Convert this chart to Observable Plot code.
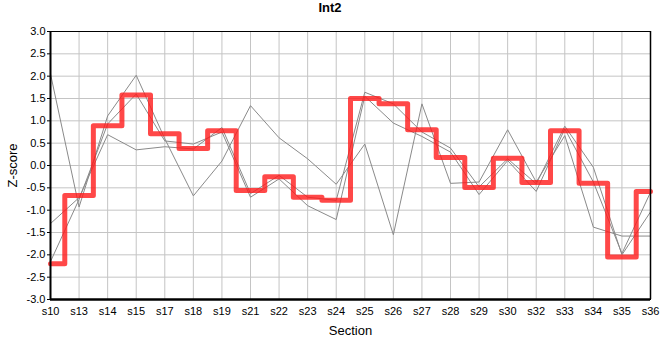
<!DOCTYPE html>
<html>
<head>
<meta charset="utf-8">
<script src="https://cdn.jsdelivr.net/npm/d3@7"></script>
<script src="https://cdn.jsdelivr.net/npm/@observablehq/plot@0.6"></script>
<style>
  html, body { margin: 0; padding: 0; background: white; overflow: hidden; }
  #title { width: 660px; height: 20px; line-height: 17px; text-align: center;
           font: bold 13px "Liberation Sans", Arial, sans-serif; color: black; }
  #chart svg { display: block; max-width: none; }
</style>
</head>
<body>
<div id="title">Int2</div>
<div id="chart"></div>
<script>
const sections = ["s10","s13","s14","s15","s17","s18","s19","s21","s22","s23","s24",
                  "s25","s26","s27","s28","s29","s30","s32","s33","s34","s35","s36"];
const redValues = [-2.2,-0.67,0.89,1.58,0.71,0.38,0.78,-0.56,-0.25,-0.71,-0.78,
                   1.5,1.38,0.8,0.18,-0.49,0.16,-0.38,0.78,-0.4,-2.05,-0.58];
const grayA = [2.05,-0.93,1.11,2.02,0.6,-0.68,0.1,1.34,0.62,0.15,-0.42,
               0.48,-1.55,1.38,-0.4,-0.37,0.8,-0.37,0.67,-1.38,-1.58,-1.58];
const grayB = [-1.3,-0.72,0.69,0.35,0.42,0.37,0.85,-0.63,-0.22,-0.71,-0.78,
               1.64,1.38,0.75,0.39,-0.48,0.15,-0.41,0.88,-0.04,-2.0,-1.04];
const grayC = [-2.15,-0.76,0.93,1.6,0.55,0.48,0.75,-0.71,-0.3,-0.9,-1.21,
               1.55,0.95,0.65,0.3,-0.65,0.11,-0.58,0.82,-0.37,-1.97,-0.6];
const yTicks = [-3,-2.5,-2,-1.5,-1,-0.5,0,0.5,1,1.5,2,2.5,3];

const redData = sections.map((s, i) => ({section: s, z: redValues[i]}));
const grayData = [["A", grayA], ["B", grayB], ["C", grayC]].flatMap(([name, vals]) =>
  sections.map((s, i) => ({series: name, section: s, z: vals[i]})));

const chart = Plot.plot({
  width: 660,
  height: 340,
  marginTop: 11,
  marginBottom: 61,
  marginLeft: 50,
  marginRight: 10,
  style: {fontFamily: "'Liberation Sans', Arial, sans-serif", fontSize: "11px", color: "black", background: "white"},
  x: {type: "point", domain: sections, padding: 0, round: false},
  y: {domain: [-3, 3]},
  marks: [
    Plot.gridX(sections, {stroke: "#c4c4c4", strokeOpacity: 1}),
    Plot.gridY(yTicks, {stroke: "#c4c4c4", strokeOpacity: 1}),
    Plot.line(grayData, {x: "section", y: "z", z: "series", stroke: "#8a8a8a", strokeWidth: 1}),
    Plot.line(redData, {x: "section", y: "z", curve: "step", stroke: "#ff1a1a", strokeOpacity: 0.8,
                        strokeWidth: 5, strokeLinejoin: "round"}),
    Plot.frame({stroke: "black", strokeWidth: 1}),
    Plot.ruleX([sections[0]], {stroke: "black", strokeWidth: 2}),
    Plot.ruleX([sections[sections.length - 1]], {stroke: "black", strokeWidth: 1.5}),
    Plot.ruleY([-3], {stroke: "black", strokeWidth: 2.5}),
    Plot.axisY(yTicks, {tickFormat: d => d.toFixed(1), tickSize: 3, tickPadding: 2, label: null, fontSize: 11}),
    Plot.axisX(sections, {tickSize: 0, tickPadding: 8, label: null, fontSize: 11}),
    Plot.text(["Z-score"], {text: d => d, frameAnchor: "left", dx: -38, rotate: -90,
                            textAnchor: "middle", lineAnchor: "middle", fontSize: 13}),
    Plot.text(["Section"], {text: d => d, frameAnchor: "bottom", dy: 31,
                            textAnchor: "middle", lineAnchor: "middle", fontSize: 13})
  ]
});
document.getElementById("chart").appendChild(chart);
</script>
</body>
</html>
